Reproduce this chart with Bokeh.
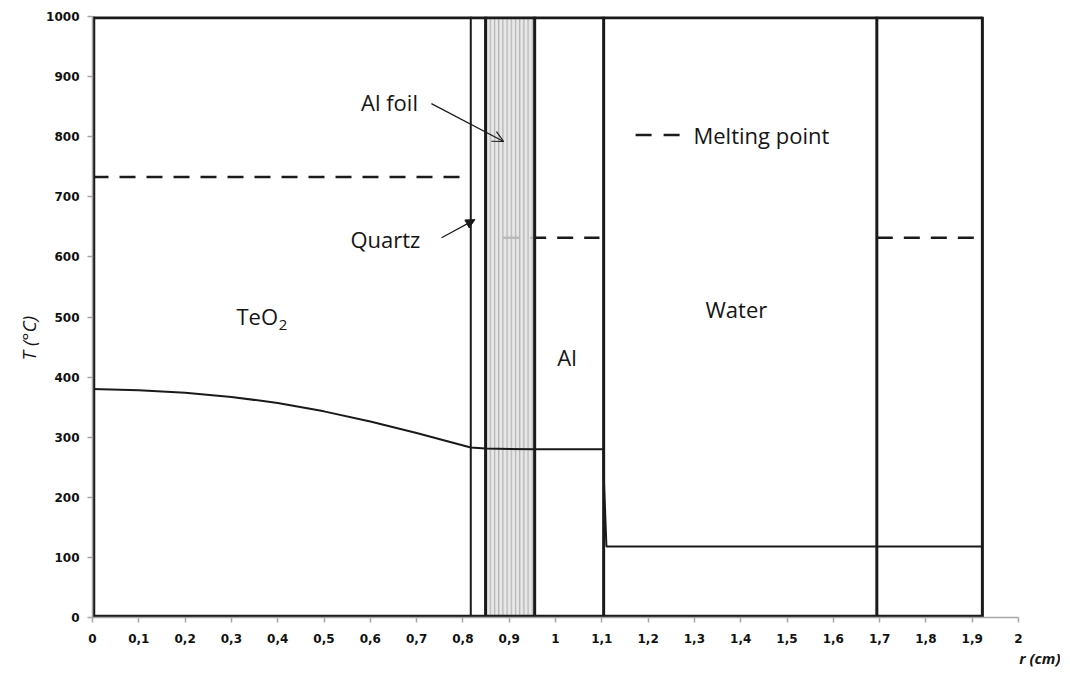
from bokeh.plotting import figure
from bokeh.models import Range1d, FixedTicker, Label, Arrow, OpenHead, NormalHead, Title
from bokeh.embed import file_html
from bokeh.resources import INLINE

# ---------------- data ----------------
x_ticks = [0, 0.1, 0.2, 0.3, 0.4, 0.5, 0.6, 0.7, 0.8, 0.9, 1, 1.1, 1.2, 1.3, 1.4, 1.5, 1.6, 1.7, 1.8, 1.9, 2]
x_tick_labels = ["0", "0,1", "0,2", "0,3", "0,4", "0,5", "0,6", "0,7", "0,8", "0,9", "1",
                 "1,1", "1,2", "1,3", "1,4", "1,5", "1,6", "1,7", "1,8", "1,9", "2"]
y_ticks = [0, 100, 200, 300, 400, 500, 600, 700, 800, 900, 1000]
x_title = "r (cm)"
y_title = "T (°C)"

# region boundaries (cm): centre, TeO2|quartz, quartz|Al foil, Al foil|Al, Al|water, water|Al, outer
boundaries = [0, 0.817, 0.849, 0.955, 1.104, 1.694, 1.922]
foil_left = 0.849
foil_right = 0.955

# temperature profile
r_profile = [0, 0.1, 0.2, 0.3, 0.4, 0.5, 0.6, 0.7, 0.817, 0.849, 0.955, 1.104, 1.104, 1.106, 1.108, 1.11, 1.922]
T_profile = [380, 378, 374, 367, 357, 343, 326, 307, 283, 281, 280, 280, 240, 200, 160, 118, 118]

# melting points (dashed)
mp_start = [0, 0.887, 1.694]
mp_end = [0.803, 1.095, 1.905]
mp_T = [733, 632, 632]

# annotations
region_labels = ["Quartz", "Al", "Water", "Al foil", "Melting point"]
region_label_r = [0.557, 1.004, 1.324, 0.580, 1.298]
region_label_T = [629, 433, 514, 858, 803]
teo2_r, teo2_T = 0.311, 501
legend_dash_r = [1.173, 1.270]
legend_dash_T = 803
foil_arrow = [0.732, 855, 0.888, 792]
quartz_arrow = [0.754, 632, 0.826, 662]

BLACK = "#1a1a1a"
TEXT = "#151515"
AXIS_GREY = "#a6a6a6"
FONT = "Open Sans"

p = figure(width=1060, height=669, output_backend="svg", toolbar_location=None,
           x_range=Range1d(0, 2), y_range=Range1d(0, 1000),
           min_border_left=92, min_border_right=42, min_border_top=16, min_border_bottom=52)
p.outline_line_color = None
p.xgrid.visible = False
p.ygrid.visible = False
p.background_fill_color = "white"

for ax in (p.xaxis[0], p.yaxis[0]):
    ax.axis_line_color = AXIS_GREY
    ax.axis_line_width = 1.5
    ax.major_tick_line_color = AXIS_GREY
    ax.major_tick_line_width = 1.5
    ax.major_tick_out = 5
    ax.major_tick_in = 0
    ax.minor_tick_line_color = None
    ax.major_label_text_font = "DejaVu Sans"
    ax.major_label_text_font_style = "bold"
    ax.major_label_text_font_size = "12px"
    ax.major_label_text_color = "#111111"
    ax.major_label_standoff = 8
p.xaxis.major_label_standoff = 11

p.xaxis.ticker = FixedTicker(ticks=x_ticks)
p.xaxis.major_label_overrides = {t: l for t, l in zip(x_ticks, x_tick_labels)}
p.yaxis.ticker = FixedTicker(ticks=y_ticks)

# axis titles
p.add_layout(Title(text=x_title, align="right", offset=-42, standoff=0,
                   text_font=FONT, text_font_size="15px", text_font_style="bold italic",
                   text_color=TEXT), "below")
p.add_layout(Title(text=y_title, align="left", offset=257, standoff=4,
                   text_font=FONT, text_font_size="19px", text_font_style="italic",
                   text_color=TEXT), "left")

# melting point dashed lines (under the foil shading)
p.segment(x0=mp_start, y0=mp_T, x1=mp_end, y1=mp_T, line_color=BLACK,
          line_width=2.5, line_dash="16 11")

# Al foil shaded region
p.quad(left=[foil_left], right=[foil_right], bottom=[0], top=[1000],
       fill_color="#e2e2e2", fill_alpha=0.8, line_color=None,
       hatch_pattern="vertical_line", hatch_scale=4.2, hatch_weight=1.3,
       hatch_color="#b4b4b4")

# region boundaries
inner = boundaries[1:]
p.segment(x0=[boundaries[1]], y0=[0], x1=[boundaries[1]], y1=[1000], line_color=BLACK, line_width=2)
p.segment(x0=inner[1:], y0=[0] * (len(inner) - 1), x1=inner[1:], y1=[1000] * (len(inner) - 1),
          line_color=BLACK, line_width=3)
# outer frame (edges are half clipped by the frame, hence the width)
p.segment(x0=[boundaries[0], boundaries[0], boundaries[0]], y0=[0, 1000, 0],
          x1=[boundaries[-1], boundaries[-1], boundaries[0]], y1=[0, 1000, 1000],
          line_color=BLACK, line_width=5.5)

# temperature profile
p.line(r_profile, T_profile, line_color=BLACK, line_width=2)

# texts
for txt, rx, ty in zip(region_labels, region_label_r, region_label_T):
    p.add_layout(Label(x=rx, y=ty, text=txt, text_font=FONT, text_font_size="22px",
                       text_color=TEXT, text_baseline="middle", text_align="left"))
p.add_layout(Label(x=teo2_r, y=teo2_T, text="TeO", text_font=FONT, text_font_size="22px",
                   text_color=TEXT, text_baseline="middle", text_align="left"))
p.add_layout(Label(x=teo2_r + 0.091, y=teo2_T - 14, text="2", text_font=FONT, text_font_size="15px",
                   text_color=TEXT, text_baseline="middle", text_align="left"))

p.segment(x0=[legend_dash_r[0]], y0=[legend_dash_T], x1=[legend_dash_r[1]], y1=[legend_dash_T],
          line_color=BLACK, line_width=2.5, line_dash="16 12")

p.add_layout(Arrow(x_start=foil_arrow[0], y_start=foil_arrow[1], x_end=foil_arrow[2], y_end=foil_arrow[3],
                   line_color=BLACK, line_width=1.2,
                   end=OpenHead(size=11, line_color=BLACK, line_width=1.2)))
p.add_layout(Arrow(x_start=quartz_arrow[0], y_start=quartz_arrow[1], x_end=quartz_arrow[2], y_end=quartz_arrow[3],
                   line_color=BLACK, line_width=1.2,
                   end=NormalHead(size=9, fill_color=BLACK, line_color=BLACK)))

open("out.html", "w").write(file_html(p, INLINE))
